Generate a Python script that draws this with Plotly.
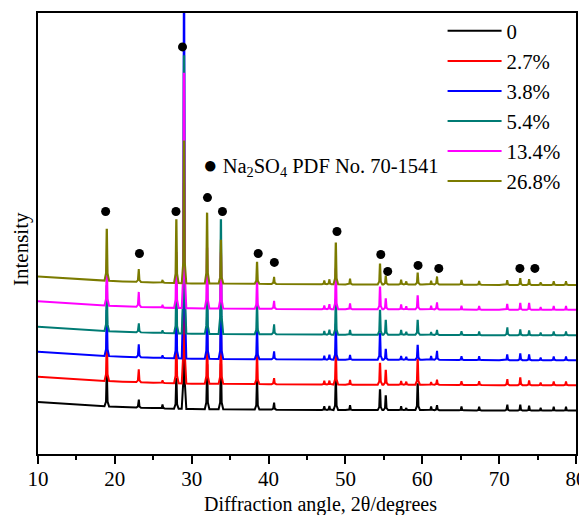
import numpy as np
import plotly.graph_objects as go

# ---- data ----
series_names = ["0", "2.7%", "3.8%", "5.4%", "13.4%", "26.8%"]
series_colors = ["#000000", "#ff0000", "#0000ff", "#007b74", "#ff00ff", "#7b7b00"]
series_offsets = [0, 25.5, 50.5, 75.5, 101, 126]

# background of the bottom pattern (2theta, intensity)
base_angles = [10, 12, 15, 18, 21, 25, 30, 40, 50, 60, 70, 80]
base_black = [51, 50, 48.5, 47, 46, 45, 44, 43.5, 43, 43, 42.5, 42.5]

peak_pos = [18.95, 23.1, 26.2, 28.0, 29.0, 32.0, 33.8, 38.5, 40.7, 47.25, 47.9, 48.75,
            50.6, 54.5, 55.25, 57.25, 57.9, 59.4, 61.15, 61.9, 65.1, 67.4, 71.05,
            72.75, 73.9, 75.4, 77.1, 78.7]

h_0 = [32, 8, 3, 30, 180, 45, 45, 28, 7, 3, 4, 30, 4, 20, 14, 3, 2, 26, 3, 5, 3, 3, 6, 5, 4, 2, 3, 3]
h_27 = [45, 12, 2, 50, 200, 50, 50, 30, 6, 3, 4, 35, 4, 21, 14, 3, 3, 25, 2, 5, 3, 3, 6, 7, 4, 2, 3, 3]
h_38 = [45, 12, 2, 50, 400, 55, 55, 30, 8, 3, 5, 35, 4, 26, 10, 3, 3, 14, 3, 9, 3, 3, 5, 6, 5, 2, 3, 3]
h_54 = [45, 9, 2, 50, 278, 55, 114, 30, 10, 3, 5, 35, 4, 24, 14, 4, 3, 14, 2, 5, 3, 3, 8, 5, 4, 2, 3, 3]
h_134 = [45, 14, 2, 55, 235, 60, 55, 28, 8, 3, 5, 40, 5, 22, 10, 4, 3, 13, 3, 7, 3, 3, 5, 6, 6, 2, 3, 3]
h_268 = [51, 12, 2, 63, 142, 70, 43, 21, 7, 3, 5, 41, 5, 20, 8, 4, 3, 11, 3, 8, 4, 3, 4, 6, 5, 2, 3, 3]
series_heights = [h_0, h_27, h_38, h_54, h_134, h_268]

# Na2SO4 reference marks
dot_x = [18.8, 23.2, 27.95, 28.8, 32.05, 34.0, 38.65, 40.75, 48.9, 54.6, 55.5, 59.45, 62.15, 72.7, 74.65]
dot_y = [242, 200, 242, 407, 256, 242, 200, 191, 222, 199, 182, 188, 185, 185, 185]

x_ticks = [10, 20, 30, 40, 50, 60, 70, 80]

# ---- build figure ----
W1, W2 = 0.1, 0.3  # peak profile half widths (deg)


def pattern(offset, heights):
    pts = set(base_angles)
    for p in peak_pos:
        pts.update([p - W2, p - W1, p - 0.02, p, p + 0.02, p + W1, p + W2])
    x = np.array(sorted(pts))
    y = np.interp(x, base_angles, base_black) + offset
    for p, h in zip(peak_pos, heights):
        d = np.abs(x - p)
        prof = np.where(d <= 0.02, 1.0,
                        np.where(d <= W1, 1 - 0.85 * (d - 0.02) / (W1 - 0.02),
                                 np.where(d <= W2, 0.15 * (W2 - d) / (W2 - W1), 0)))
        y = y + h * prof
    return x, y


fig = go.Figure()
for name, col, off, hts in zip(series_names, series_colors, series_offsets, series_heights):
    x, y = pattern(off, hts)
    fig.add_trace(go.Scatter(x=x, y=y, mode="lines", name=name,
                             line=dict(color=col, width=2)))

fig.add_trace(go.Scatter(x=dot_x, y=dot_y, mode="markers", showlegend=False,
                         marker=dict(color="black", size=9)))

fig.add_annotation(x=31.15, y=288, xref="x", yref="y", xanchor="left", yanchor="middle",
                   showarrow=False,
                   text="<span style='font-size:24px'>●</span> Na<sub>2</sub>SO<sub>4</sub> PDF No. 70-1541",
                   font=dict(family="Liberation Serif", size=20.5, color="black"))

# axis titles (placed as annotations to match their offsets)
fig.add_annotation(x=0.525, y=-0.1154, xref="paper", yref="paper", xanchor="center",
                   yanchor="middle", showarrow=False, text="Diffraction angle, 2θ/degrees",
                   font=dict(family="Liberation Serif", size=20, color="black"))
fig.add_annotation(x=-0.0307, y=0.466, xref="paper", yref="paper", xanchor="center",
                   yanchor="middle", showarrow=False, text="Intensity", textangle=-90,
                   font=dict(family="Liberation Serif", size=21, color="black"))

# the page adds an 8px body margin, so the figure is 8px smaller and shifted
fig.update_layout(
    width=579, height=507,
    margin=dict(l=30, r=11, t=4, b=61),
    paper_bgcolor="white", plot_bgcolor="white",
    font=dict(family="Liberation Serif", size=21, color="black"),
    showlegend=True,
    legend=dict(x=0.752, y=1.0026, xanchor="left", yanchor="top",
                bgcolor="rgba(0,0,0,0)", font=dict(size=20.8), itemwidth=54,
                tracegroupgap=0),
    xaxis=dict(range=[10, 80], tickvals=x_ticks, ticktext=[str(v) for v in x_ticks],
               showline=True, mirror=True, linecolor="black", linewidth=2,
               ticks="outside", ticklen=8, tickwidth=2, tickcolor="black",
               minor=dict(ticks="outside", ticklen=4, tickwidth=2, dtick=5, tickcolor="black"),
               showgrid=False, zeroline=False, ticklabelstandoff=-3, automargin=False,
               tickfont=dict(size=21)),
    yaxis=dict(range=[-1, 441], showline=True, mirror=True, linecolor="black", linewidth=2,
               showticklabels=False, ticks="", showgrid=False, zeroline=False, automargin=False),
)

fig.write_html("out.html")
